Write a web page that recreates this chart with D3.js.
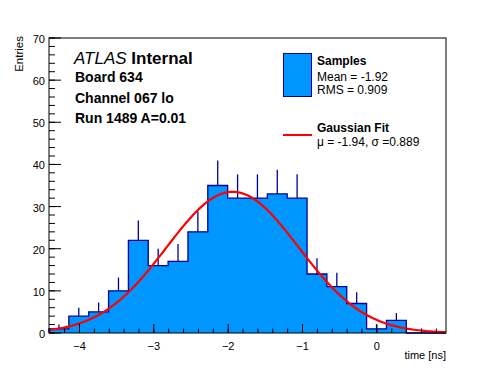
<!DOCTYPE html>
<html><head><meta charset="utf-8">
<script src="https://cdn.jsdelivr.net/npm/d3@7"></script>
<style>body{margin:0;background:#fff}svg{display:block}text{font-family:"Liberation Sans",Arial,Helvetica,sans-serif}</style>
</head><body><svg id="c" width="496" height="372"></svg>
<script>
// ---- data ----
const binEdges = [-4.41,-4.143,-3.876,-3.609,-3.342,-3.075,-2.808,-2.541,-2.274,-2.007,-1.74,-1.473,-1.206,-0.939,-0.672,-0.405,-0.138,0.129,0.396,0.663,0.93];
const binCounts = [1,4,5,10,22,16,17,24,35,32,32,33,32,14,11,7,1,3,0,0];
const xTicks = [-4,-3,-2,-1,0];
const yTicks = [0,10,20,30,40,50,60,70];
const fitConst = 33.5, fitMean = -1.94, fitSigma = 0.889;
const infoLines = ["Board 634","Channel 067 lo","Run 1489 A=0.01"];
const legendSamples = ["Samples","Mean = -1.92","RMS = 0.909"];
const legendFit = ["Gaussian Fit","\u03bc = -1.94, \u03c3 =0.889"];

const svg = d3.select("#c");
const L=49,R=446,T=38,B=333;
const x = d3.scaleLinear().domain([-4.41,0.93]).range([L,R]);
const y = d3.scaleLinear().domain([0,70]).range([B,T]);
const fill="#0096ff", navy="#000099";

const bins = binCounts.map((c,i)=>({x0:binEdges[i],x1:binEdges[i+1],c}));
// step outline points
const pts=[[x(binEdges[0]),y(0)]];
bins.forEach(d=>{pts.push([x(d.x0),y(d.c)]);pts.push([x(d.x1),y(d.c)]);});
pts.push([x(binEdges[binEdges.length-1]),y(0)]);
// fill as one shape
svg.append("path").attr("d",d3.line()(pts)+"Z").attr("fill",fill).attr("stroke","none");
svg.append("path").attr("d",d3.line()(pts)).attr("fill","none").attr("stroke",navy).attr("stroke-width",1.3);
// error bars (upper half)
svg.append("g").selectAll("line").data(bins.filter(d=>d.c>0)).join("line")
  .attr("x1",d=>x((d.x0+d.x1)/2)).attr("x2",d=>x((d.x0+d.x1)/2))
  .attr("y1",d=>y(d.c)).attr("y2",d=>y(d.c+Math.sqrt(d.c)))
  .attr("stroke",navy).attr("stroke-width",1.3);
// fit curve
const xs=d3.range(0,201).map(i=>-4.41+i*(0.93+4.41)/200);
const gauss=v=>fitConst*Math.exp(-0.5*Math.pow((v-fitMean)/fitSigma,2));
svg.append("path").attr("d",d3.line().x(v=>x(v)).y(v=>y(gauss(v)))(xs))
  .attr("fill","none").attr("stroke","#ff0000").attr("stroke-width",2.2);

// frame
svg.append("rect").attr("x",L).attr("y",T).attr("width",R-L).attr("height",B-T)
  .attr("fill","none").attr("stroke","#000").attr("stroke-width",1);
// ticks
const xMinor=d3.range(-4.4,0.93,0.2);
const g=svg.append("g").attr("stroke","#000").attr("stroke-width",1);
xMinor.forEach(v=>g.append("line").attr("x1",x(v)).attr("x2",x(v)).attr("y1",B).attr("y2",B-4.5));
xTicks.forEach(v=>g.append("line").attr("x1",x(v)).attr("x2",x(v)).attr("y1",B).attr("y2",B-9));
const yMinor=d3.range(0,70.1,2);
yMinor.forEach(v=>g.append("line").attr("x1",L).attr("x2",L+6).attr("y1",y(v)).attr("y2",y(v)));
yTicks.forEach(v=>g.append("line").attr("x1",L).attr("x2",L+12).attr("y1",y(v)).attr("y2",y(v)));
const fmt=d3.format("");
svg.append("g").selectAll("text").data(xTicks).join("text")
  .attr("x",d=>x(d)).attr("y",350).attr("text-anchor","middle").attr("font-size",11).text(d=>fmt(d));
svg.append("g").selectAll("text").data(yTicks).join("text")
  .attr("x",45).attr("y",d=>y(d)+5).attr("text-anchor","end").attr("font-size",11).text(d=>fmt(d));
svg.append("text").attr("x",446).attr("y",359).attr("text-anchor","end").attr("font-size",11).text("time [ns]");
svg.append("text").attr("transform","translate(23,36) rotate(-90)").attr("text-anchor","end").attr("font-size",11.5).text("Entries");

// ATLAS block
const at=svg.append("text").attr("x",74).attr("y",64).attr("font-size",17);
at.append("tspan").attr("font-style","italic").text("ATLAS");
at.append("tspan").attr("font-weight","bold").text(" Internal");
svg.append("g").selectAll("text").data(infoLines).join("text")
  .attr("x",75).attr("y",(d,i)=>82+i*20.5).attr("font-size",14).attr("font-weight","bold").text(d=>d);

// legend
svg.append("rect").attr("x",283.5).attr("y",53.5).attr("width",28).attr("height",43)
  .attr("fill",fill).attr("stroke",navy).attr("stroke-width",1);
svg.append("g").selectAll("text").data(legendSamples).join("text")
  .attr("x",317).attr("y",(d,i)=>[65,81,94][i]).attr("font-size",12)
  .attr("font-weight",(d,i)=>i===0?"bold":"normal").text(d=>d);
svg.append("line").attr("x1",283).attr("x2",312).attr("y1",135).attr("y2",135).attr("stroke","#ff0000").attr("stroke-width",2);
svg.append("g").selectAll("text").data(legendFit).join("text")
  .attr("x",317).attr("y",(d,i)=>[132,146][i]).attr("font-size",12)
  .attr("font-weight",(d,i)=>i===0?"bold":"normal").text(d=>d);
</script></body></html>
